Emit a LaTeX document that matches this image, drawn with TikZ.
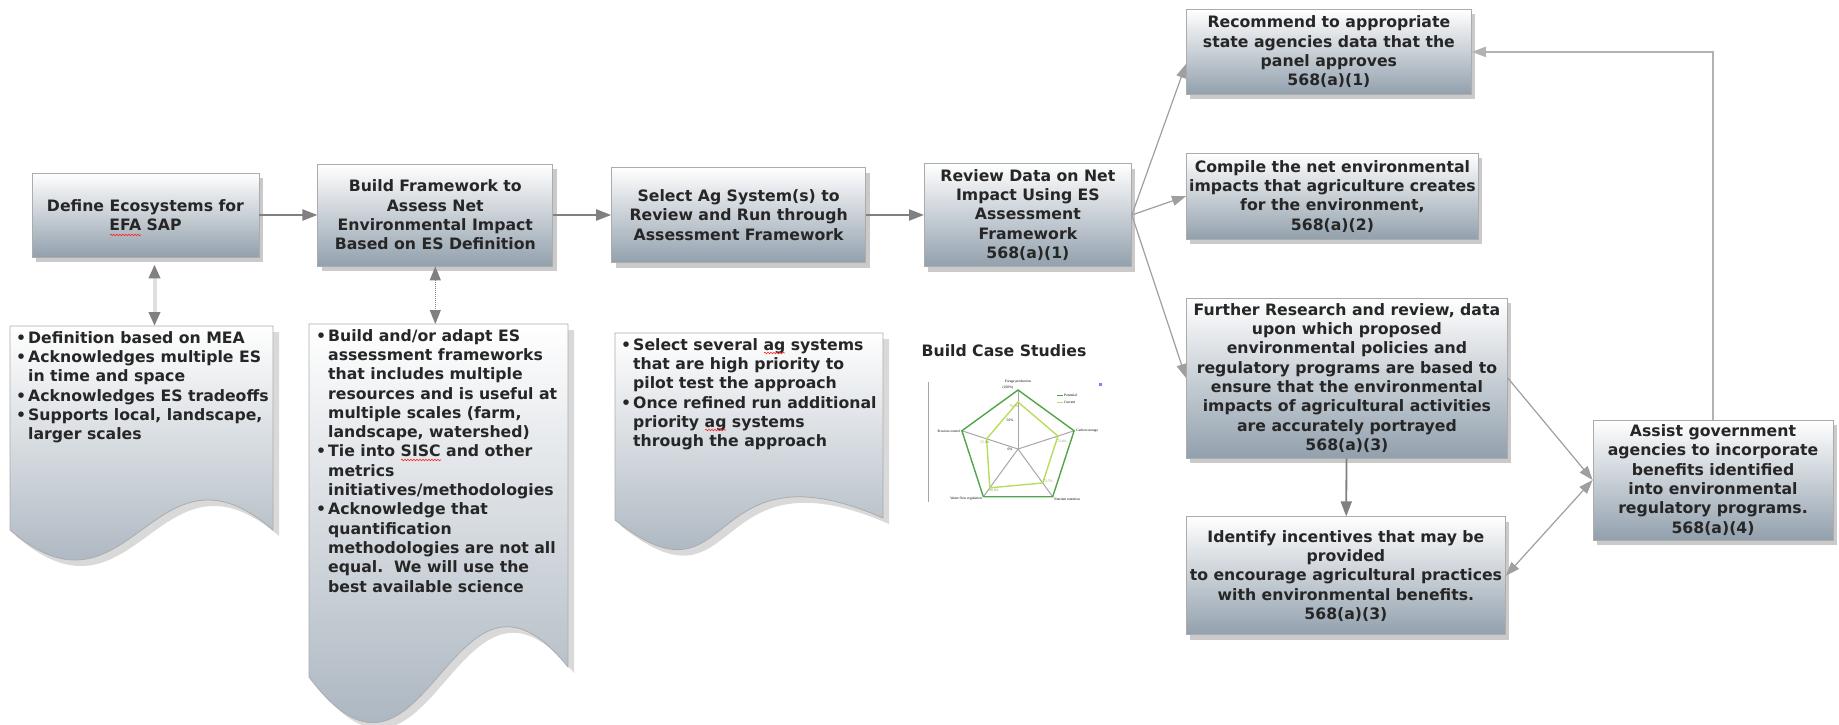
\documentclass[tikz,border=0pt]{standalone}
\usepackage{fontspec}
\setmainfont{DejaVu Sans}
\newfontfamily\chartfont{Liberation Serif}
\usepackage{tikz}
\usetikzlibrary{positioning,calc,arrows.meta,shadows,backgrounds,decorations.pathmorphing}
\definecolor{boxbot}{RGB}{146,160,173}
\definecolor{docbot}{RGB}{150,163,176}
\definecolor{linegray}{RGB}{128,128,128}
\definecolor{potgreen}{RGB}{80,165,70}
\definecolor{curgreen}{RGB}{185,220,90}
\newcommand{\bxfont}{\fontsize{15.7}{19.3}\selectfont\bfseries}
\newcommand{\chfont}{\chartfont\fontsize{3.6}{4}\selectfont}
\newcommand{\bul}{\makebox[12pt][l]{\textbullet}}
\newcommand{\bulind}{\hspace*{12pt}}

\begin{document}
\begin{tikzpicture}[
    x=1pt, y=-1pt,
    blk/.style={rectangle, draw=gray!65, line width=0.8pt, top color=white, bottom color=boxbot, font=\bxfont, text=black!85, align=center, inner xsep=2pt, inner ysep=2pt, drop shadow={shadow xshift=4pt, shadow yshift=-5pt, opacity=0.35, fill=black!60}},
    doctxt/.style={anchor=north west, font=\bxfont, text=black!85, align=left, inner xsep=6pt, inner ysep=5pt},
    docfill/.style={draw=gray!65, line width=0.8pt, top color=white, bottom color=docbot, drop shadow={shadow xshift=6pt, shadow yshift=-6pt, opacity=0.25, fill=black!60}},
    arr/.style={-{Triangle[length=15pt,width=11pt]}, line width=2.2pt, draw=linegray},
    slim/.style={-{Triangle[length=14pt,width=10pt]}, line width=1.2pt, draw=gray!75},
    both/.style={{Triangle[length=14pt,width=10pt]}-{Triangle[length=14pt,width=10pt]}, line width=1.2pt, draw=gray!75},
    fatboth/.style={{Triangle[length=14pt,width=11pt,color=linegray]}-{Triangle[length=14pt,width=11pt,color=linegray]}, line width=4pt, draw=gray!25},
    dotboth/.style={{Triangle[length=14pt,width=11pt]}-{Triangle[length=14pt,width=11pt]}, densely dotted, line width=1pt, draw=linegray},
    fback/.style={-{Triangle[length=14pt,width=10pt]}, line width=2pt, draw=gray!60},
    spell/.style={draw=red!85, line width=0.6pt, decorate, decoration={snake, amplitude=0.8pt, segment length=3pt}}
]
    \useasboundingbox (0,0) rectangle (1839,725);

    \node[blk, minimum width=227pt, minimum height=84pt] (defeco) at (145.5,215) {Define Ecosystems for\\EFA SAP};
    \node[blk, minimum width=235pt, minimum height=102pt, right=58pt of defeco] (buildfw) {Build Framework to\\Assess Net\\Environmental Impact\\Based on ES Definition};
    \node[blk, minimum width=254pt, minimum height=95pt, right=58pt of buildfw] (selectag) {Select Ag System(s) to\\Review and Run through\\Assessment Framework};
    \node[blk, minimum width=207pt, minimum height=103pt, right=58pt of selectag] (review) {Review Data on Net\\Impact Using ES\\Assessment\\Framework\\568(a)(1)};

    \node[blk, anchor=north west, minimum width=285pt, minimum height=85pt] (recommend) at (1186,9) {Recommend to appropriate\\state agencies data that the\\panel approves\\568(a)(1)};
    \node[blk, below=58pt of recommend.south west, anchor=north west, minimum width=292pt, minimum height=86pt] (compile) {Compile the net environmental\\impacts that agriculture creates\\for the environment,\\568(a)(2)};
    \node[blk, below=58pt of compile.south west, anchor=north west, minimum width=321pt, minimum height=160pt] (further) {Further Research and review, data\\upon which proposed\\environmental policies and\\regulatory programs are based to\\ensure that the environmental\\impacts of agricultural activities\\are accurately portrayed\\568(a)(3)};
    \node[blk, below=58pt of further.south west, anchor=north west, minimum width=319pt, minimum height=118pt] (incent) {Identify incentives that may be\\provided\\to encourage agricultural practices\\with environmental benefits.\\568(a)(3)};
    \node[blk, minimum width=240pt, minimum height=120pt] (assist) at (1713,480) {Assist government\\agencies to incorporate\\benefits identified\\into environmental\\regulatory programs.\\568(a)(4)};

    \node[doctxt] (defdoc) at (10,326) {\bul Definition based on MEA\\\bul Acknowledges multiple ES\\\bulind in time and space\\\bul Acknowledges ES tradeoffs\\\bul Supports local, landscape,\\\bulind larger scales};
    \node[doctxt, inner xsep=7pt] (builddoc) at (309,324) {\bul Build and/or adapt ES\\\bulind assessment frameworks\\\bulind that includes multiple\\\bulind resources and is useful at\\\bulind multiple scales (farm,\\\bulind landscape, watershed)\\\bul Tie into SISC and other\\\bulind metrics\\\bulind initiatives/methodologies\\\bul Acknowledge that\\\bulind quantification\\\bulind methodologies are not all\\\bulind equal.\ \ We will use the\\\bulind best available science};
    \node[doctxt] (selectdoc) at (615,333) {\bul Select several ag systems\\\bulind that are high priority to\\\bulind pilot test the approach\\\bul Once refined run additional\\\bulind priority ag systems\\\bulind through the approach};

    \begin{scope}[on background layer]
        \path[docfill] (10,326) -- (273,326) -- (273,530) .. controls (153,426) and (130,634) .. (10,530) -- cycle;
        \path[docfill] (309,324) -- (568,324) -- (568,667) .. controls (450,520) and (427,835) .. (309,677) -- cycle;
        \path[docfill] (615,333) -- (883,333) -- (883,518) .. controls (700,438) and (737,617) .. (615,520) -- cycle;
    \end{scope}

    \draw[spell] (110,235) -- (141,235);
    \draw[spell] (401,460) -- (441,460);
    \draw[spell] (764,353) -- (785,353);
    \draw[spell] (705,430) -- (726,430);

    \node[font=\bxfont, text=black!85] (casestudy) at (1004,351) {Build Case Studies};

    \begin{scope}[shift={(1018,449)}, y=1pt]
        \draw[gray!70, line width=0.6pt] (-90,67) -- (-90,-53);
        \foreach \a in {90,18,-54,-126,162}
            \draw[gray!70, line width=1pt] (0,0) -- (\a:59);
        \draw[potgreen, line width=1.4pt] (90:59) -- (18:59) -- (-54:59) -- (-126:59) -- (162:59) -- cycle;
        \draw[curgreen, line width=1.4pt] (90:47) -- (18:42) -- (-54:42) -- (-126:48) -- (162:33) -- cycle;
        \node[font=\chfont, inner sep=0pt] (axforage) at (0,67) {Forage production};
        \node[font=\chfont, inner sep=0pt] (axfull) at (-10,61) {(100\%)};
        \node[font=\chfont, inner sep=0pt, anchor=west] (axcarbon) at (58,18) {Carbon storage};
        \node[font=\chfont, inner sep=0pt, anchor=west] (axnutr) at (36,-50) {Nutrient retention};
        \node[font=\chfont, inner sep=0pt, anchor=east] (axwater) at (-36,-50) {Water flow regulation};
        \node[font=\chfont, inner sep=0pt, anchor=east] (axerosion) at (-58,18) {Erosion control};
        \node[font=\chfont, inner sep=0pt] (axhalf) at (-8,29) {50\%};
        \node[font=\chfont, inner sep=0pt] (axzero) at (-8,0) {0\%};
        \draw[potgreen, line width=0.8pt] (39,54) -- (45,54);
        \node[font=\chfont, inner sep=0pt, anchor=west] (legpot) at (46,54) {Potential};
        \draw[curgreen, line width=0.8pt] (39,47) -- (45,47);
        \node[font=\chfont, inner sep=0pt, anchor=west] (legcur) at (46,47) {Current};
        \fill[blue!50] (81,63) rectangle (84,66);
        \node[font=\chfont, text=curgreen!70!black, inner sep=0pt] (valtop) at (-4,43) {76.7\%};
        \node[font=\chfont, text=curgreen!70!black, inner sep=0pt] (valright) at (44,8) {72.4\%};
        \node[font=\chfont, text=curgreen!70!black, inner sep=0pt] (valbr) at (30,-32) {73.7\%};
        \node[font=\chfont, text=curgreen!70!black, inner sep=0pt] (valbl) at (-24,-41) {80.8\%};
        \node[font=\chfont, text=curgreen!70!black, inner sep=0pt] (valleft) at (-33,7) {55.6\%};
    \end{scope}

    \draw[arr] (defeco) -- (buildfw);
    \draw[arr] (buildfw) -- (selectag);
    \draw[arr] (selectag) -- (review);
    \draw[slim] (review.east) -- ([yshift=-12pt]recommend.west);
    \draw[slim] (review.east) -- (compile.west);
    \draw[slim] (review.east) -- (further.west);
    \draw[arr, line width=1.8pt] (further) -- (incent);
    \draw[slim] (further.east) -- (assist.west);
    \draw[both] (assist.west) -- (incent.east);
    \draw[fback] (assist.north) |- (recommend.east);
    \coordinate (defjoin) at ([xshift=9pt]defeco.south);
    \draw[fatboth, shorten <=7pt] (defjoin) -- (defjoin |- defdoc.north);
    \draw[dotboth] (buildfw.south) -- (buildfw.south |- builddoc.north);
\end{tikzpicture}
\end{document}
